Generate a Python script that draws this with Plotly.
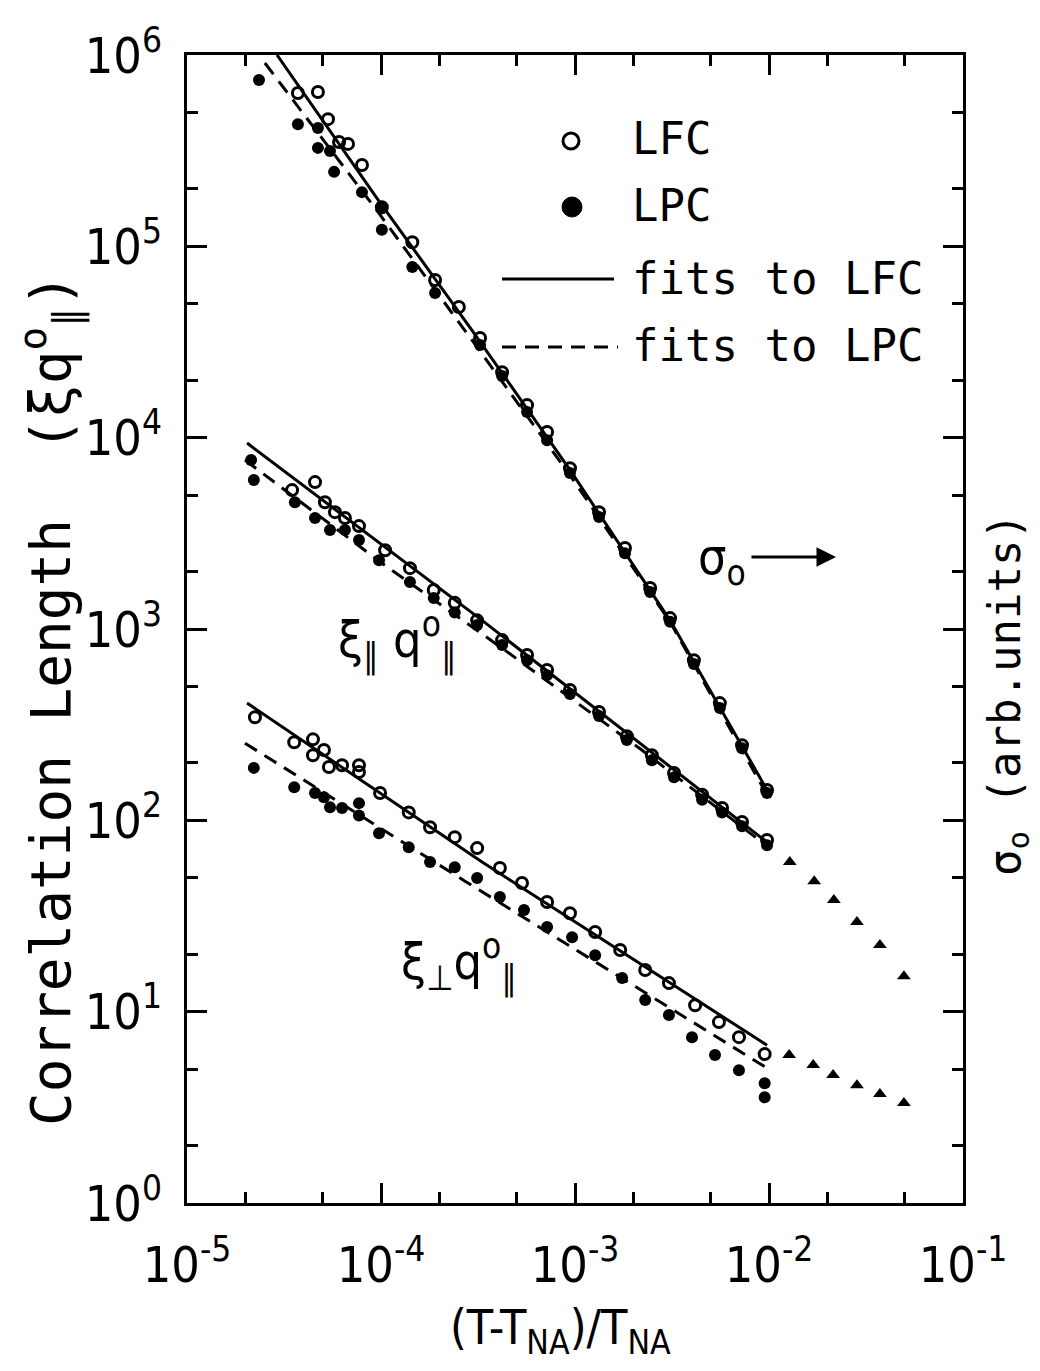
import plotly.graph_objects as go

# ---------------- data ----------------
# sigma_o (top curve)
sigma_lfc_x = [3.73e-5, 4.73e-5, 5.33e-5, 6.08e-5, 6.76e-5, 7.98e-5, 1.01e-4, 1.45e-4, 1.90e-4, 2.52e-4,
               3.24e-4, 4.21e-4, 5.66e-4, 7.18e-4, 9.42e-4, 1.33e-3, 1.81e-3, 2.44e-3, 3.09e-3, 4.10e-3,
               5.58e-3, 7.26e-3, 9.77e-3]
sigma_lfc_y = [6.33e5, 6.41e5, 4.62e5, 3.51e5, 3.43e5, 2.66e5, 1.60e5, 1.05e5, 6.67e4, 4.82e4,
               3.32e4, 2.20e4, 1.48e4, 1.07e4, 6.93e3, 4.08e3, 2.65e3, 1.64e3, 1.14e3, 687,
               410, 247, 144]
sigma_lpc_x = [2.35e-5, 3.73e-5, 4.73e-5, 4.73e-5, 5.46e-5, 5.73e-5, 7.98e-5, 1.01e-4, 1.01e-4, 1.45e-4,
               1.90e-4, 3.24e-4, 4.21e-4, 5.66e-4, 7.18e-4, 9.42e-4, 1.33e-3, 1.81e-3, 2.44e-3, 3.09e-3,
               4.10e-3, 5.58e-3, 7.26e-3, 9.77e-3]
sigma_lpc_y = [7.40e5, 4.35e5, 4.15e5, 3.27e5, 3.15e5, 2.45e5, 1.92e5, 1.58e5, 1.22e5, 7.80e4,
               5.70e4, 3.05e4, 2.10e4, 1.36e4, 9.70e3, 6.53e3, 3.85e3, 2.49e3, 1.56e3, 1.09e3,
               656, 386, 238, 139]
sigma_fit_lfc_x = [2.91e-5, 9.66e-5, 2.94e-4, 9.42e-4, 3.09e-3, 9.77e-3]
sigma_fit_lfc_y = [1.0e6, 1.75e5, 3.65e4, 6.78e3, 1.11e3, 144]
sigma_fit_lpc_x = [2.52e-5, 9.66e-5, 2.94e-4, 9.42e-4, 3.09e-3, 9.77e-3]
sigma_fit_lpc_y = [9.08e5, 1.51e5, 3.24e4, 6.37e3, 1.09e3, 136]

# xi_parallel q_parallel (middle curve)
xipar_lfc_x = [3.48e-5, 4.57e-5, 5.14e-5, 5.79e-5, 6.52e-5, 7.70e-5, 1.05e-4, 1.41e-4, 1.87e-4, 2.40e-4,
               3.13e-4, 4.21e-4, 5.66e-4, 7.18e-4, 9.42e-4, 1.33e-3, 1.85e-3, 2.49e-3, 3.24e-3, 4.52e-3,
               5.73e-3, 7.26e-3, 9.77e-3]
xipar_lfc_y = [5320, 5860, 4600, 4080, 3800, 3450, 2580, 2080, 1600, 1370,
               1110, 875, 731, 610, 480, 368, 275, 219, 177, 136,
               116, 98, 79]
xipar_lpc_x = [2.14e-5, 2.21e-5, 3.60e-5, 4.57e-5, 5.46e-5, 6.52e-5, 7.70e-5, 9.77e-5, 1.41e-4, 1.87e-4,
               2.40e-4, 3.13e-4, 4.21e-4, 5.66e-4, 7.18e-4, 9.42e-4, 1.33e-3, 1.85e-3, 2.49e-3, 3.24e-3,
               4.52e-3, 5.73e-3, 7.26e-3, 9.77e-3]
xipar_lpc_y = [7640, 6000, 4600, 3800, 3290, 3290, 2920, 2290, 1760, 1450,
               1220, 1050, 824, 687, 574, 457, 351, 263, 206, 168,
               128, 110, 93, 74]
xipar_fit_lfc_x = [2.04e-5, 3.32e-4, 9.77e-3]
xipar_fit_lfc_y = [9370, 1110, 76.9]
xipar_fit_lpc_x = [1.99e-5, 1.01e-4, 4.21e-4, 2.21e-3, 9.77e-3]
xipar_fit_lpc_y = [7640, 2210, 794, 233, 73.3]

# xi_perp q_parallel (bottom curves)
xiperp_lfc_x = [2.24e-5, 3.57e-5, 4.46e-5, 4.46e-5, 5.08e-5, 5.39e-5, 6.30e-5, 7.70e-5, 7.70e-5, 9.89e-5,
                1.39e-4, 1.79e-4, 2.40e-4, 3.13e-4, 4.10e-4, 5.33e-4, 7.18e-4, 9.42e-4, 1.27e-3, 1.71e-3,
                2.30e-3, 3.05e-3, 4.16e-3, 5.52e-3, 7.00e-3, 9.50e-3]
xiperp_lfc_y = [346, 256, 265, 219, 233, 190, 194, 194, 179, 139,
                110, 92, 81.7, 71.6, 56.3, 47.0, 37.4, 32.7, 26.1, 21.0,
                16.5, 14.1, 10.8, 8.82, 7.36, 6.0]
xiperp_lpc_x = [2.21e-5, 3.57e-5, 4.57e-5, 5.08e-5, 5.46e-5, 6.30e-5, 7.70e-5, 7.70e-5, 9.77e-5, 1.39e-4,
                1.79e-4, 2.40e-4, 3.13e-4, 4.10e-4, 5.46e-4, 7.18e-4, 9.66e-4, 1.27e-3, 1.75e-3, 2.30e-3,
                3.05e-3, 4.01e-3, 5.27e-3, 7.00e-3, 9.50e-3, 9.50e-3]
xiperp_lpc_y = [188, 149, 139, 132, 117, 116, 123, 106, 85.7, 72.4,
                60.5, 56.9, 49.9, 39.7, 34.0, 27.7, 24.5, 19.7, 15.0, 11.5,
                9.60, 7.36, 5.93, 4.94, 4.23, 3.57]
xiperp_fit_lfc_x = [2.04e-5, 3.32e-4, 9.77e-3]
xiperp_fit_lfc_y = [410, 60.5, 6.68]
xiperp_fit_lpc_x = [1.99e-5, 2.71e-4, 9.77e-3]
xiperp_fit_lpc_y = [253, 48.1, 5.07]

# triangles at large reduced temperature
tri_upper_x = [1.28e-2, 1.71e-2, 2.16e-2, 2.84e-2, 3.73e-2, 4.96e-2]
tri_upper_y = [60.5, 48.1, 38.3, 29.4, 22.3, 15.3]
tri_lower_x = [1.27e-2, 1.69e-2, 2.14e-2, 2.84e-2, 3.73e-2, 4.96e-2]
tri_lower_y = [5.93, 5.26, 4.66, 4.13, 3.71, 3.33]

x_tick_vals = [1e-5, 1e-4, 1e-3, 1e-2, 1e-1]
x_tick_text = ["10<sup>-5</sup>", "10<sup>-4</sup>", "10<sup>-3</sup>", "10<sup>-2</sup>", "10<sup>-1</sup>"]
y_tick_vals = [1, 10, 100, 1e3, 1e4, 1e5, 1e6]
y_tick_text = ["10<sup>0</sup>", "10<sup>1</sup>", "10<sup>2</sup>", "10<sup>3</sup>",
               "10<sup>4</sup>", "10<sup>5</sup>", "10<sup>6</sup>"]
x_minor_vals = [m * 10.0 ** e for e in range(-5, -1) for m in (2, 5)]
y_minor_vals = [m * 10.0 ** e for e in range(0, 6) for m in (2, 5)]

# ---------------- styling ----------------
NARROW = "Liberation Sans Narrow, DejaVu Sans Condensed, Liberation Sans, sans-serif"
MONO = "DejaVu Sans Mono, Liberation Mono, monospace"
BLACK = "black"
LW = 3

fig = go.Figure()

def fit(x, y, dash):
    fig.add_trace(go.Scatter(x=x, y=y, mode="lines", showlegend=False,
                             line=dict(color=BLACK, width=LW, dash=dash)))

def pts(x, y, symbol, size, lw=0):
    fig.add_trace(go.Scatter(x=x, y=y, mode="markers", showlegend=False,
                             marker=dict(symbol=symbol, size=size, color=BLACK,
                                         line=dict(color=BLACK, width=lw))))

for fx, fy, d in [(sigma_fit_lfc_x, sigma_fit_lfc_y, "solid"), (sigma_fit_lpc_x, sigma_fit_lpc_y, "14px,9px"),
                  (xipar_fit_lfc_x, xipar_fit_lfc_y, "solid"), (xipar_fit_lpc_x, xipar_fit_lpc_y, "14px,9px"),
                  (xiperp_fit_lfc_x, xiperp_fit_lfc_y, "solid"), (xiperp_fit_lpc_x, xiperp_fit_lpc_y, "14px,9px")]:
    fit(fx, fy, d)

for px_, py_ in [(sigma_lpc_x, sigma_lpc_y), (xipar_lpc_x, xipar_lpc_y), (xiperp_lpc_x, xiperp_lpc_y)]:
    pts(px_, py_, "circle", 12)
for px_, py_ in [(sigma_lfc_x, sigma_lfc_y), (xipar_lfc_x, xipar_lfc_y), (xiperp_lfc_x, xiperp_lfc_y)]:
    pts(px_, py_, "circle-open", 11, lw=3)
pts(tri_upper_x, tri_upper_y, "triangle-up", 12)
pts(tri_lower_x, tri_lower_y, "triangle-up", 12)

# ---------------- layout ----------------
# page pixel positions of the plot frame (the html body adds an 8 px margin)
L, R, T, B = 187, 963, 55, 1203
W, H = 1040, 1371
OFF = 8

def xp(px):
    return (px - L) / (R - L)

def yp(py):
    return (B - py) / (B - T)

axis_common = dict(showline=True, linewidth=3, linecolor=BLACK, mirror="allticks",
                   ticks="inside", ticklen=20, tickwidth=3, tickcolor=BLACK,
                   showgrid=False, zeroline=False,
                   tickfont=dict(family=NARROW, size=50, color=BLACK))

fig.update_layout(
    width=W - OFF, height=H - OFF,
    margin=dict(l=L - OFF, r=W - R, t=T - OFF, b=H - B),
    paper_bgcolor="white", plot_bgcolor="white",
    xaxis=dict(type="log", range=[-5, -1], tickmode="array", tickvals=x_tick_vals, ticktext=x_tick_text,
               minor=dict(tickmode="array", tickvals=x_minor_vals, ticks="inside", ticklen=11,
                          tickwidth=3, tickcolor=BLACK),
               ticklabelstandoff=16,
               **axis_common),
    yaxis=dict(type="log", range=[0, 6], tickmode="array", tickvals=y_tick_vals, ticktext=y_tick_text,
               minor=dict(tickmode="array", tickvals=y_minor_vals, ticks="inside", ticklen=11,
                          tickwidth=3, tickcolor=BLACK),
               ticklabelstandoff=12,
               **axis_common),
)

annotations = []
# axis titles
annotations.append(dict(xref="paper", yref="paper", x=xp(50), y=yp(700),
                        text="Correlation Length  (ξq<sup>o</sup><sub>∥</sub>)",
                        textangle=-90, showarrow=False, font=dict(family=MONO, size=56, color=BLACK),
                        xanchor="center", yanchor="middle"))
annotations.append(dict(xref="paper", yref="paper", x=xp(560), y=yp(1330),
                        text="(T-T<sub>NA</sub>)/T<sub>NA</sub>",
                        showarrow=False, font=dict(family=NARROW, size=48, color=BLACK),
                        xanchor="center", yanchor="middle"))
annotations.append(dict(xref="paper", yref="paper", x=xp(1007), y=yp(695), text="σ<sub>o</sub> (arb.units)",
                        textangle=-90, showarrow=False, font=dict(family=MONO, size=44, color=BLACK),
                        xanchor="center", yanchor="middle"))
# curve labels
annotations.append(dict(xref="paper", yref="paper", x=xp(722), y=yp(560), text="σ<sub>o</sub>",
                        showarrow=False, xanchor="center", yanchor="middle",
                        font=dict(family=NARROW, size=50, color=BLACK)))
annotations.append(dict(xref="paper", yref="paper", x=xp(836), y=yp(557), ax=-86, ay=0, text="",
                        showarrow=True, arrowhead=2, arrowsize=1.3, arrowwidth=3, arrowcolor=BLACK))
annotations.append(dict(xref="paper", yref="paper", x=xp(397), y=yp(640),
                        text="ξ<sub>∥</sub> q<sup>o</sup><sub>∥</sub>",
                        showarrow=False, xanchor="center", yanchor="middle",
                        font=dict(family=NARROW, size=50, color=BLACK)))
annotations.append(dict(xref="paper", yref="paper", x=xp(459), y=yp(962),
                        text="ξ<sub>⊥</sub>q<sup>o</sup><sub>∥</sub>",
                        showarrow=False, xanchor="center", yanchor="middle",
                        font=dict(family=NARROW, size=50, color=BLACK)))
# legend texts
for txt, py in [("LFC", 139), ("LPC", 205), ("fits to LFC", 279), ("fits to LPC", 346)]:
    annotations.append(dict(xref="paper", yref="paper", x=xp(630), y=yp(py), text=txt, showarrow=False,
                            xanchor="left", yanchor="middle", font=dict(family=MONO, size=44, color=BLACK)))
fig.update_layout(annotations=annotations)

shapes = [
    dict(type="circle", xref="paper", yref="paper", x0=xp(563), x1=xp(579), y0=yp(149), y1=yp(133),
         line=dict(color=BLACK, width=3), fillcolor="white"),
    dict(type="circle", xref="paper", yref="paper", x0=xp(562), x1=xp(582), y0=yp(217), y1=yp(197),
         line=dict(color=BLACK, width=1), fillcolor=BLACK),
    dict(type="line", xref="paper", yref="paper", x0=xp(502), x1=xp(614), y0=yp(279), y1=yp(279),
         line=dict(color=BLACK, width=3)),
    dict(type="line", xref="paper", yref="paper", x0=xp(502), x1=xp(618), y0=yp(347), y1=yp(347),
         line=dict(color=BLACK, width=3, dash="14px,9px")),
]
fig.update_layout(shapes=shapes)

fig.write_html("out.html")
